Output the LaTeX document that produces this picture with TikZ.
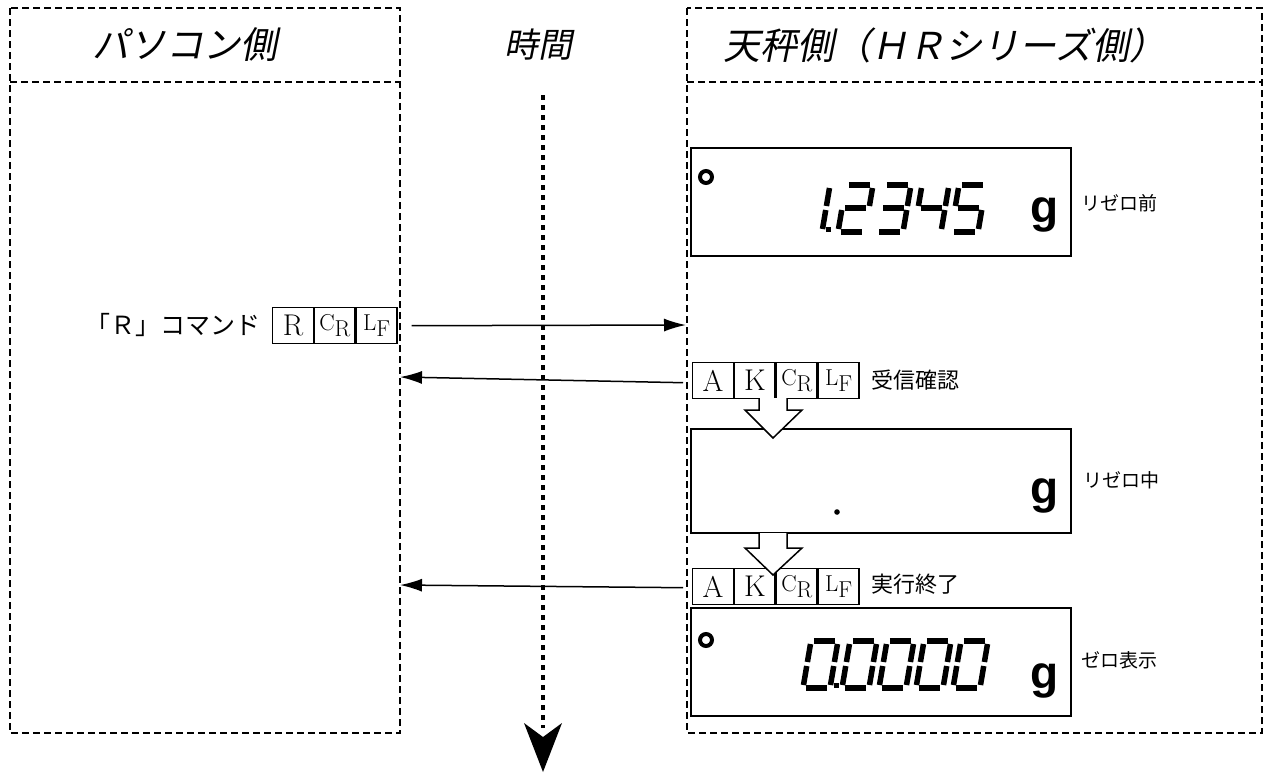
\documentclass[tikz,border=0pt]{standalone}
\usepackage{fontspec}
\newfontfamily\jp{Noto Sans CJK JP}
\newfontfamily\jpit{Noto Sans CJK JP}[FakeSlant=0.2]
\newfontfamily\gsans{Liberation Sans}
\usetikzlibrary{arrows.meta}
\newcommand\segs[3]{\begin{scope}[shift={(#1,#2)}, x={(1pt,0pt)}, y={(0.17pt,1pt)}]
\foreach \ax/\ay/\bx/\by in {#3} \draw[seg] (\ax,\ay)--(\bx,\by);
\end{scope}}
\newcommand\dzero[2]{\segs{#1}{#2}{3/47/24/47,27/44/27/26,27/22/27/3,3/0/24/0,0/3/0/22,0/26/0/44}}
\newcommand\done[2]{\segs{#1}{#2}{27/44/27/26,27/22/27/3}}
\newcommand\dtwo[2]{\segs{#1}{#2}{3/47/24/47,27/44/27/26,3/24/24/24,0/3/0/22,3/0/24/0}}
\newcommand\dthree[2]{\segs{#1}{#2}{3/47/24/47,27/44/27/26,3/24/24/24,27/22/27/3,3/0/24/0}}
\newcommand\dfour[2]{\segs{#1}{#2}{0/26/0/44,3/24/24/24,27/44/27/26,27/22/27/3}}
\newcommand\dfive[2]{\segs{#1}{#2}{3/47/24/47,0/26/0/44,3/24/24/24,27/22/27/3,3/0/24/0}}
\newcommand\dpt[2]{\fill (#1,#2) rectangle ++(5,-5);}
\begin{document}
\begin{tikzpicture}[x=1pt,y=-1pt,
  dbox/.style={draw, dash pattern=on 7pt off 4pt, line width=1.6pt},
  disp/.style={draw, line width=1.8pt, fill=white},
  cell/.style={draw, line width=1.4pt, minimum width=40.5pt, minimum height=36pt, inner sep=0pt, anchor=north west, font=\fontsize{30}{30}\selectfont},
  subcell/.style={cell, font=\fontsize{23}{23}\selectfont},
  msg/.style={-{Latex[length=22pt,width=13pt]}, line width=1.5pt},
  hollow/.style={draw, fill=white, line width=1.5pt},
  seg/.style={line width=5.5pt, line cap=butt},
  head/.style={font=\fontsize{37}{37}\selectfont\jpit},
  lab/.style={font=\fontsize{19}{19}\selectfont\jp},
  gram/.style={font=\fontsize{46}{46}\selectfont\gsans\bfseries, anchor=base},
  ind/.style={draw, line width=4pt}
]
\useasboundingbox (0,0) rectangle (1267,774);
% panels
\draw[dbox] (10,8) rectangle (400,733);
\draw[dbox] (10,82) -- (400,82);
\draw[dbox] (687,8) rectangle (1262,733);
\draw[dbox] (687,82) -- (1262,82);
\node[head] (hpc) at (185,45) {パソコン側};
\node[head] (hbal) at (945,45) {天秤側（ＨＲシリーズ側）};
\node[head, font=\fontsize{34}{34}\selectfont\jpit] (htime) at (538,45) {時間};
% time arrow
\coordinate (t0) at (543,95);
\coordinate (t1) at (543,728);
\draw[line width=4.5pt, dash pattern=on 5pt off 5pt] (t0) -- (t1);
\fill (543,772) -- (524,723) -- (543,737) -- (562,723) -- cycle;
% display 1
\node[disp, minimum width=380pt, minimum height=108pt, anchor=north west] (d1) at (690,147) {};
\draw[ind] (706,177) circle (6);
\done{795}{232}\dpt{826}{232}\dtwo{838}{232}\dthree{876}{232}\dfour{914}{232}\dfive{951}{232}
\node[gram] (g1) at (1045,222) {g};
\node[lab, anchor=west] (l1) at (1078,203) {リゼロ前};
% command R
\node[cell] (r1) at (272,307) {R};
\node[subcell] (cr1) at (r1.north east) {C\raisebox{-6pt}{R}};
\node[subcell] (lf1) at (cr1.north east) {L\raisebox{-6pt}{F}};
\node[font=\fontsize{25}{25}\selectfont\jp, anchor=east] (cmd) at (264,325) {「Ｒ」コマンド};
\coordinate (rin) at (686,325);
\draw[msg] ([xshift=14pt]lf1.east) -- (rin);
% ACK 1
\node[cell] (a1) at (692,362) {A};
\node[cell] (k1) at (a1.north east) {K};
\node[subcell] (cr2) at (k1.north east) {C\raisebox{-6pt}{R}};
\node[subcell] (lf2) at (cr2.north east) {L\raisebox{-6pt}{F}};
\node[font=\fontsize{22}{22}\selectfont\jp, anchor=west] (ack1) at (868,380) {受信確認};
\coordinate (pc1) at (400,377);
\draw[msg] ([xshift=-9pt,yshift=-2pt]a1.west) -- (pc1);
% display 2
\node[disp, minimum width=380pt, minimum height=104pt, anchor=north west] (d2) at (690,428) {};
\fill (837,512) circle (2.8);
\node[gram] (g2) at (1045,503) {g};
\node[lab, anchor=west] (l2) at (1080,480) {リゼロ中};
\filldraw[hollow] (759,398) -- (759,410) -- (745,410) -- (773,438) -- (802,410) -- (787,410) -- (787,398);
% ACK 2
\node[cell] (a2) at (692,568) {A};
\node[cell] (k2) at (a2.north east) {K};
\node[subcell] (cr3) at (k2.north east) {C\raisebox{-6pt}{R}};
\node[subcell] (lf3) at (cr3.north east) {L\raisebox{-6pt}{F}};
\node[font=\fontsize{22}{22}\selectfont\jp, anchor=west] (ack2) at (868,584) {実行終了};
\coordinate (pc2) at (400,585);
\draw[msg] ([xshift=-9pt,yshift=-1pt]a2.west) -- (pc2);
\filldraw[hollow] (759,533) -- (759,548) -- (745,548) -- (773,575) -- (802,548) -- (787,548) -- (787,533);
% display 3
\node[disp, minimum width=380pt, minimum height=108pt, anchor=north west] (d3) at (690,607) {};
\draw[ind] (706,640) circle (6);
\dzero{803}{688}\dpt{834}{688}\dzero{842}{688}\dzero{879}{688}\dzero{916}{688}\dzero{953}{688}
\node[gram] (g3) at (1045,688) {g};
\node[lab, anchor=west] (l3) at (1078,660) {ゼロ表示};
\end{tikzpicture}
\end{document}
